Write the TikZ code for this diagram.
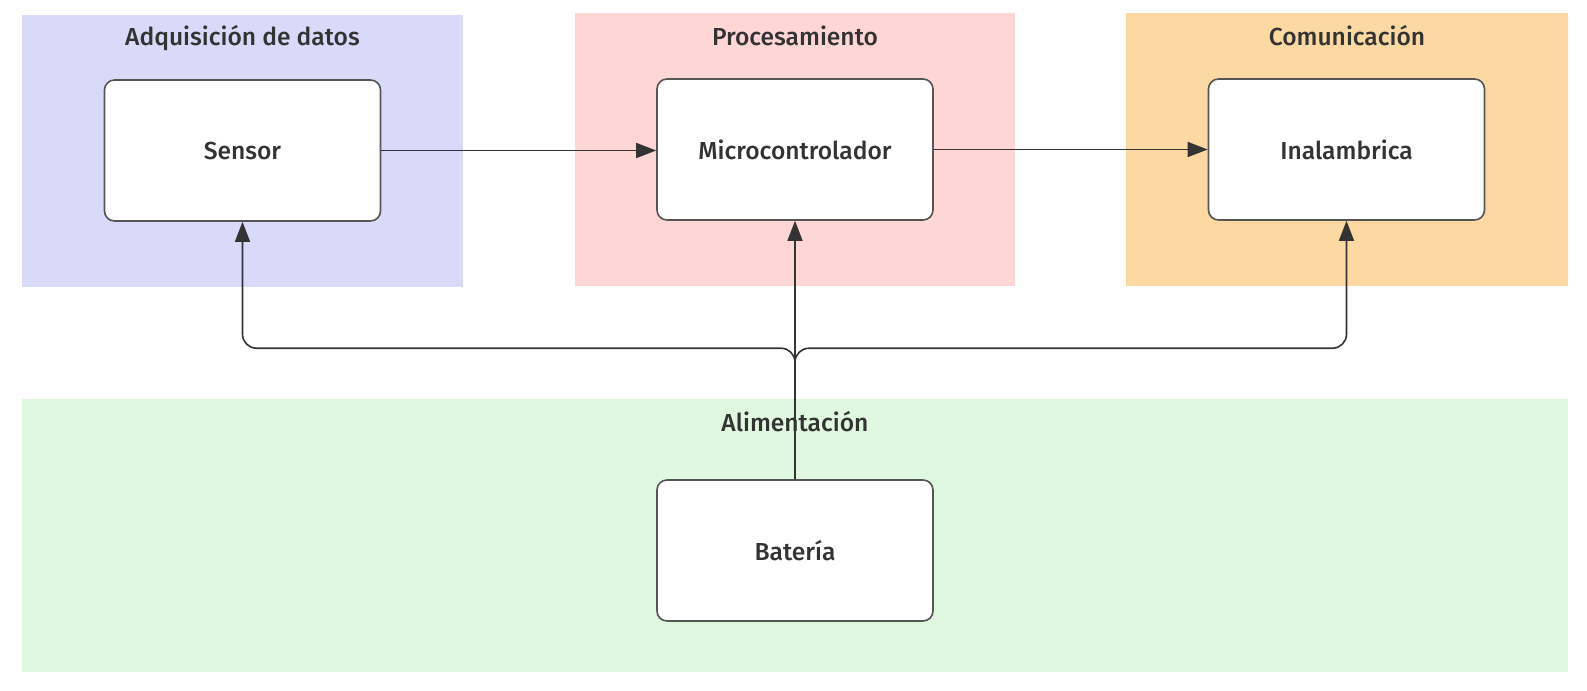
\documentclass[tikz,border=0pt]{standalone}
\usepackage{fontspec}
\setmainfont{Fira Sans Medium}
\usetikzlibrary{arrows.meta}
\definecolor{txt}{HTML}{333333}
\definecolor{edge}{HTML}{555555}
\definecolor{gblue}{HTML}{D9D9F9}
\definecolor{gpink}{HTML}{FFD6D6}
\definecolor{gorange}{HTML}{FCD8A2}
\definecolor{ggreen}{HTML}{E0F8E0}
\tikzset{
  grptitle/.style={text=txt, font=\fontsize{12.3pt}{14pt}\selectfont, inner sep=0pt},
  blk/.style={draw=edge, line width=0.8pt, fill=white, rounded corners=5pt, minimum width=138pt, minimum height=70.5pt, text=txt, font=\fontsize{12.3pt}{14pt}\selectfont, inner sep=0pt},
  arr/.style={draw=txt, line width=0.8pt, -{Triangle[length=10pt,width=7.5pt]}},
}
\begin{document}
\begin{tikzpicture}[x=0.5pt,y=-0.5pt]
\useasboundingbox (0,0) rectangle (1587,691);
\fill[white] (0,0) rectangle (1587,691);
% groups
\fill[gblue] (22,15) rectangle (463,287);
\fill[gpink] (575,13) rectangle (1015,286);
\fill[gorange] (1126,13) rectangle (1568,286);
\fill[ggreen] (22,399) rectangle (1568,672);
\node[grptitle] (tA) at (242.5,38) {Adquisición de datos};
\node[grptitle] (tP) at (795,36) {Procesamiento};
\node[grptitle] (tC) at (1347,36) {Comunicación};
\node[grptitle] (tB) at (795,422) {Alimentación};
% blocks
\node[blk] (sen) at (242.5,150.5) {Sensor};
\node[blk] (mic) at (795,149.5) {Microcontrolador};
\node[blk] (ina) at (1346.5,149.5) {Inalambrica};
\node[blk] (bat) at (795,550.5) {Batería};
% connectors
\draw[arr] (sen.east) -- (sen.east -| mic.west);
\draw[arr] (mic.east) -- (mic.east -| ina.west);
\draw[arr] (bat.north) -- (mic.south);
\draw[arr, rounded corners=7pt] (bat.north) -- ++(0,-131) -| (sen.south);
\draw[arr, rounded corners=7pt] (bat.north) -- ++(0,-131) -| (ina.south);
\end{tikzpicture}
\end{document}
